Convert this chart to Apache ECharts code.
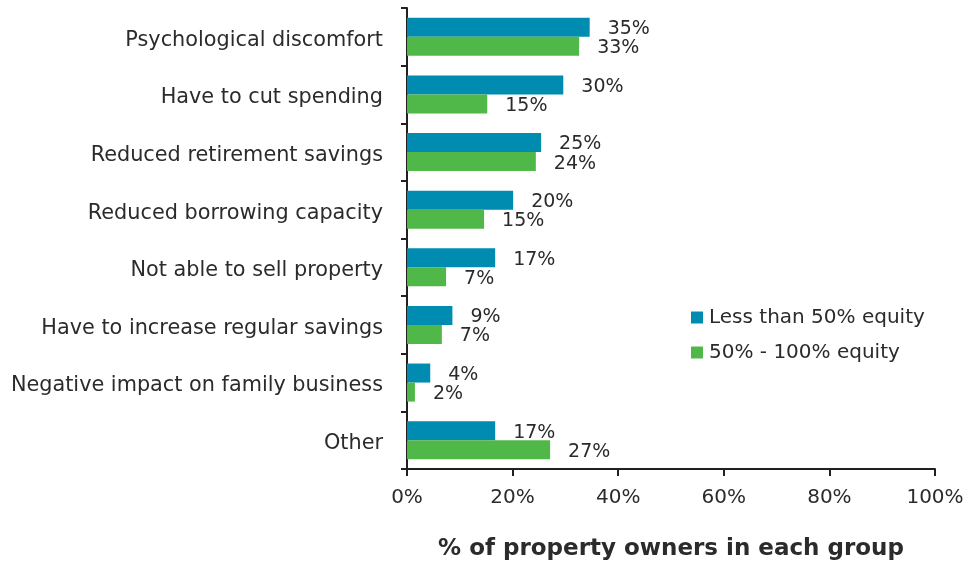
<!DOCTYPE html>
<html>
<head>
<meta charset="utf-8">
<script src="https://cdn.jsdelivr.net/npm/echarts@6/dist/echarts.min.js"></script>
<style>
  html, body { margin: 0; padding: 0; background: #fff; }
  #chart { width: 968px; height: 564px; }
</style>
</head>
<body>
<div id="chart"></div>
<script>
// Reported impacts, top to bottom
const categories = [
  'Psychological discomfort',
  'Have to cut spending',
  'Reduced retirement savings',
  'Reduced borrowing capacity',
  'Not able to sell property',
  'Have to increase regular savings',
  'Negative impact on family business',
  'Other'
];
// Share of owners in each equity group (%)
const lessThan50 = [34.6, 29.6, 25.4, 20.1, 16.7, 8.6, 4.4, 16.7];
const from50to100 = [32.6, 15.2, 24.4, 14.6, 7.4, 6.6, 1.5, 27.1];
const seriesNames = ['Less than 50% equity', '50% - 100% equity'];
const xTicks = [0, 20, 40, 60, 80, 100];

const FONT = '"DejaVu Sans", sans-serif';
const TEXT = '#2b2b2b';
const AXIS = '#231f20';

const chart = echarts.init(document.getElementById('chart'));

const barLabel = {
  show: true,
  position: 'right',
  distance: 18,
  offset: [0, 2],
  fontFamily: FONT,
  fontSize: 19,
  color: TEXT,
  formatter: p => Math.round(p.value) + '%'
};

chart.setOption({
  animation: false,
  textStyle: { fontFamily: FONT },
  grid: {
    left: 407, right: 33, top: 8, bottom: 95,
    containLabel: false,
    outerBoundsMode: 'none'
  },
  legend: {
    orient: 'vertical',
    left: 686,
    top: 302,
    itemWidth: 12,
    itemHeight: 12,
    itemGap: 14,
    icon: 'rect',
    textStyle: { fontFamily: FONT, fontSize: 20, color: TEXT, lineHeight: 21, padding: [0, 0, 0, 1] },
    data: seriesNames
  },
  xAxis: {
    type: 'value',
    min: xTicks[0],
    max: xTicks[xTicks.length - 1],
    interval: 20,
    name: '% of property owners in each group',
    nameLocation: 'middle',
    nameGap: 69,
    nameTextStyle: { fontFamily: FONT, fontSize: 23, fontWeight: 'bold', color: TEXT },
    axisLine: { show: true, lineStyle: { color: AXIS, width: 2 } },
    axisTick: { show: true, length: 7, lineStyle: { color: AXIS, width: 2 } },
    splitLine: { show: false },
    axisLabel: {
      fontFamily: FONT, fontSize: 20, color: TEXT, margin: 19,
      formatter: v => v + '%'
    }
  },
  yAxis: {
    type: 'category',
    inverse: true,
    data: categories,
    axisLine: { show: true, lineStyle: { color: AXIS, width: 2 } },
    axisTick: { show: true, length: 6, alignWithLabel: false, lineStyle: { color: AXIS, width: 2 } },
    axisLabel: {
      margin: 24,
      formatter: v => '{c|' + v + '}',
      rich: {
        c: { fontFamily: FONT, fontSize: 20.8, color: TEXT, padding: [7, 0, 0, 0] }
      }
    }
  },
  series: [
    {
      name: seriesNames[0],
      type: 'bar',
      data: lessThan50,
      barGap: '0%',
      barCategoryGap: '34%',
      itemStyle: { color: '#008bb0' },
      label: barLabel
    },
    {
      name: seriesNames[1],
      type: 'bar',
      data: from50to100,
      barGap: '0%',
      barCategoryGap: '34%',
      itemStyle: { color: '#50b848' },
      label: barLabel
    }
  ]
});
</script>
</body>
</html>
